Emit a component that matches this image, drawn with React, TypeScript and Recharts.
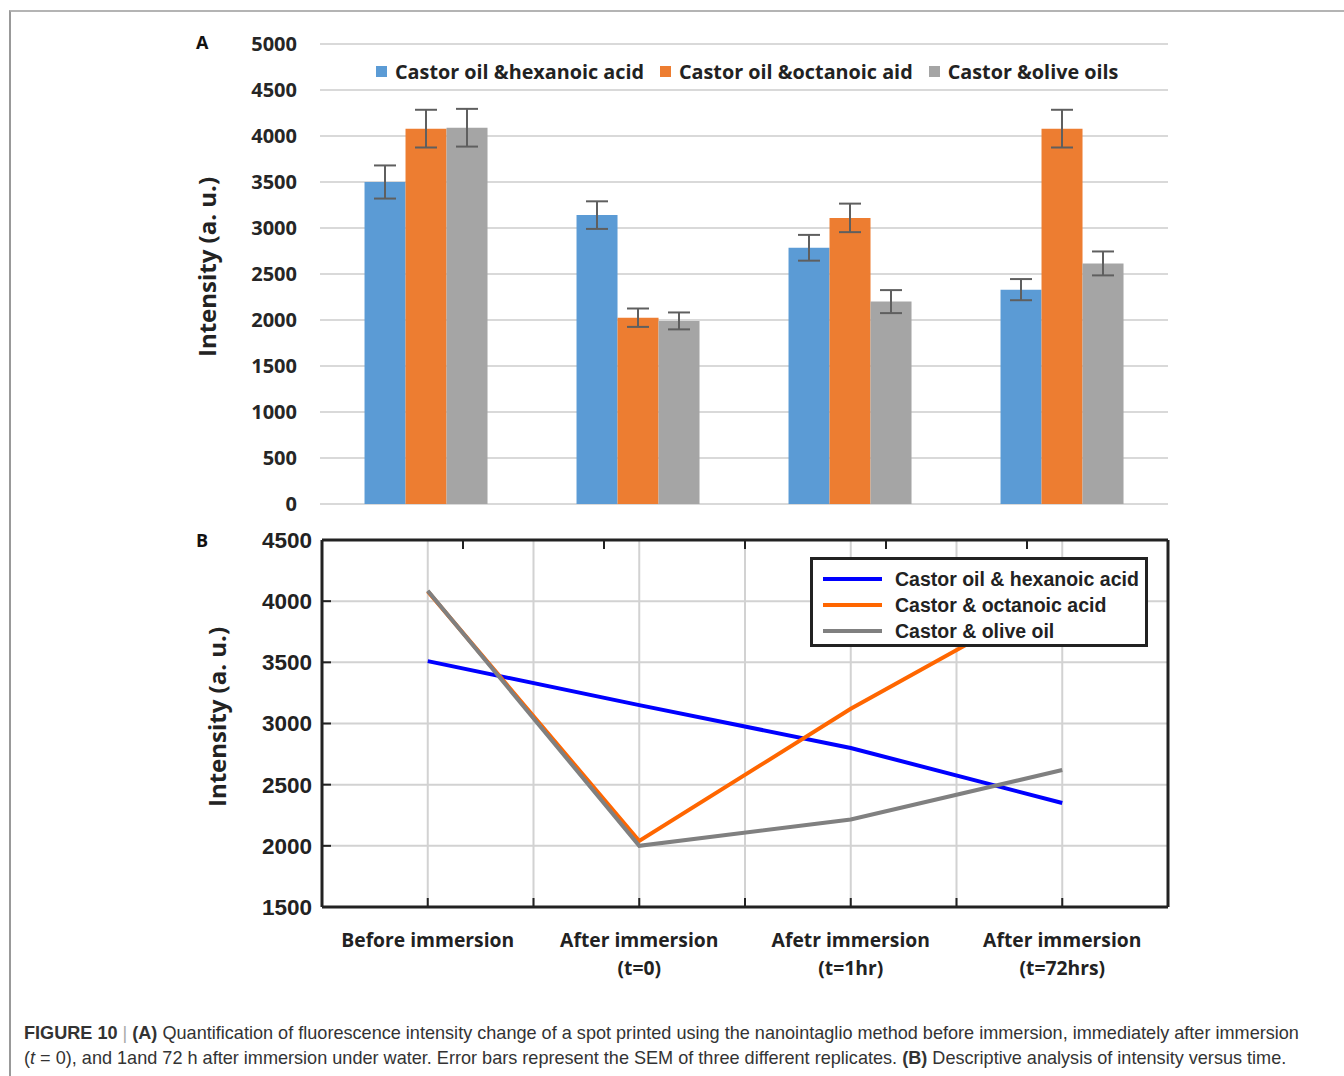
import React from 'react';
import { BarChart, Bar, XAxis, YAxis, CartesianGrid, ErrorBar, LineChart, Line } from 'recharts';

// stages (x categories)
const stageLines = [
  ['Before immersion'],
  ['After immersion', '(t=0)'],
  ['Afetr immersion', '(t=1hr)'],
  ['After immersion', '(t=72hrs)'],
];

// panel A – mean intensity and SEM
const hexanoic = [3500, 3140, 2785, 2330];
const octanoic = [4080, 2025, 3110, 4080];
const olive = [4090, 1990, 2200, 2615];
const hexanoicErr = [180, 150, 140, 115];
const octanoicErr = [205, 100, 155, 205];
const oliveErr = [205, 92, 125, 130];

// panel B – descriptive lines
const lineHexanoic = [3510, 3150, 2800, 2350];
const lineOctanoic = [4080, 2040, 3120, 4080];
const lineOlive = [4085, 2000, 2215, 2620];

const barTicks = [0, 500, 1000, 1500, 2000, 2500, 3000, 3500, 4000, 4500, 5000];
const lineYTicks = [1500, 2000, 2500, 3000, 3500, 4000, 4500];
const lineXTicks = [0, 0.5, 1, 1.5, 2, 2.5, 3];

const barLegend = [
  { name: 'Castor oil &hexanoic acid', color: '#5B9BD5' },
  { name: 'Castor oil &octanoic aid', color: '#ED7D31' },
  { name: 'Castor &olive oils', color: '#A5A5A5' },
];
const lineLegend = [
  { name: 'Castor oil & hexanoic acid', color: '#0000FF' },
  { name: 'Castor & octanoic acid', color: '#FF6600' },
  { name: 'Castor & olive oil', color: '#808080' },
];

const barData = stageLines.map((s, i) => ({
  stage: s.join(' '),
  hex: hexanoic[i], hexErr: hexanoicErr[i],
  oct: octanoic[i], octErr: octanoicErr[i],
  olv: olive[i], olvErr: oliveErr[i],
}));

const lineData = stageLines.map((_, i) => ({
  pos: i,
  hex: lineHexanoic[i],
  oct: lineOctanoic[i],
  olv: lineOlive[i],
}));

const SANS = '"Open Sans", sans-serif';
const ARIAL = '"Liberation Sans", Arial, sans-serif';
const FRAME = '#222';

function StageTick({ x, y, payload }: any) {
  const v = payload.value;
  if (!Number.isInteger(v)) return null;
  const lines = stageLines[v];
  return (
    <text x={x} y={y} textAnchor="middle" fontFamily={SANS} fontWeight={700} fontSize={19.3} fill="#222">
      {lines.map((l, i) => (
        <tspan key={i} x={x} dy={i === 0 ? 0 : 28}>{l}</tspan>
      ))}
    </text>
  );
}

function YTitle({ left, top }: { left: number; top: number }) {
  return (
    <div style={{ position: 'absolute', left, top, width: 0, height: 0 }}>
      <div style={{
        position: 'absolute', left: 0, top: 0, whiteSpace: 'nowrap',
        transform: 'translate(-50%, -50%) rotate(-90deg)',
        fontFamily: SANS, fontWeight: 700, fontSize: 24, color: '#222',
      }}>Intensity (a. u.)</div>
    </div>
  );
}

export default function App() {
  return (
    <div style={{ position: 'absolute', left: 0, top: 0, width: 1344, height: 1076, background: '#fff', overflow: 'hidden' }}>
      {/* figure frame */}
      <div style={{ position: 'absolute', left: 9, top: 10, width: 1340, height: 1070, borderTop: '2px solid #b4b4b4', borderLeft: '2px solid #999' }} />

      <div style={{ position: 'absolute', left: 196, top: 30, fontFamily: SANS, fontWeight: 700, fontSize: 18, color: '#111' }}>A</div>
      <div style={{ position: 'absolute', left: 196, top: 528, fontFamily: SANS, fontWeight: 700, fontSize: 18, color: '#111' }}>B</div>

      {/* panel A */}
      <div style={{ position: 'absolute', left: 180, top: 20 }}>
        <BarChart width={1000} height={520} data={barData} margin={{ top: 24, right: 12, bottom: 36, left: 0 }} barCategoryGap="21%" barGap={0}>
          <CartesianGrid vertical={false} stroke="#d9d9d9" strokeWidth={2} />
          <XAxis dataKey="stage" hide />
          <YAxis domain={[0, 5000]} ticks={barTicks} interval={0} width={140} axisLine={false} tickLine={false} tickMargin={17}
            tick={{ fontSize: 20, fontWeight: 700, fill: '#262626', fontFamily: SANS }} />
          <Bar dataKey="hex" fill="#5B9BD5" isAnimationActive={false}>
            <ErrorBar dataKey="hexErr" width={11} strokeWidth={2} stroke="#5f5f5f" />
          </Bar>
          <Bar dataKey="oct" fill="#ED7D31" isAnimationActive={false}>
            <ErrorBar dataKey="octErr" width={11} strokeWidth={2} stroke="#5f5f5f" />
          </Bar>
          <Bar dataKey="olv" fill="#A5A5A5" isAnimationActive={false}>
            <ErrorBar dataKey="olvErr" width={11} strokeWidth={2} stroke="#5f5f5f" />
          </Bar>
        </BarChart>
      </div>
      <YTitle left={206} top={267} />
      <div style={{ position: 'absolute', left: 376, top: 58, display: 'flex', alignItems: 'center', gap: 16, fontFamily: SANS, fontWeight: 700, fontSize: 19.8, color: '#222', whiteSpace: 'nowrap' }}>
        {barLegend.map((d) => (
          <div key={d.name} style={{ display: 'flex', alignItems: 'center', gap: 8 }}>
            <div style={{ width: 11, height: 11, background: d.color }} />
            <span>{d.name}</span>
          </div>
        ))}
      </div>

      {/* panel B */}
      <div style={{ position: 'absolute', left: 180, top: 520 }}>
        <LineChart width={1000} height={480} data={lineData} margin={{ top: 18, right: 10, bottom: 13, left: 0 }}>
          <CartesianGrid stroke="#d2d2d2" strokeWidth={2} />
          <XAxis dataKey="pos" type="number" domain={[-0.5, 3.5]} ticks={lineXTicks} interval={0} height={80}
            tickSize={-9} tickMargin={49} axisLine={{ stroke: FRAME, strokeWidth: 3 }} tickLine={{ stroke: FRAME, strokeWidth: 2 }}
            tick={<StageTick />} />
          <XAxis xAxisId="top" orientation="top" type="number" domain={[-0.5, 3.5]} ticks={lineXTicks} interval={0} height={2}
            tickSize={-9} axisLine={{ stroke: FRAME, strokeWidth: 3 }} tickLine={{ stroke: FRAME, strokeWidth: 2 }} tickFormatter={() => ''} />
          <YAxis type="number" domain={[1500, 4500]} ticks={lineYTicks} interval={0} width={142}
            tickSize={-9} tickMargin={19} axisLine={{ stroke: FRAME, strokeWidth: 3 }} tickLine={{ stroke: FRAME, strokeWidth: 2 }}
            tick={{ fontSize: 22.5, fontWeight: 700, fill: '#222', fontFamily: ARIAL }} />
          <YAxis yAxisId="right" orientation="right" type="number" domain={[1500, 4500]} ticks={lineYTicks} interval={0} width={2}
            tickSize={-9} axisLine={{ stroke: FRAME, strokeWidth: 3 }} tickLine={{ stroke: FRAME, strokeWidth: 2 }} tickFormatter={() => ''} />
          <Line dataKey="hex" stroke="#0000FF" strokeWidth={4} dot={false} isAnimationActive={false} />
          <Line dataKey="oct" stroke="#FF6600" strokeWidth={4} dot={false} isAnimationActive={false} />
          <Line dataKey="olv" stroke="#808080" strokeWidth={4} dot={false} isAnimationActive={false} />
        </LineChart>
      </div>
      <YTitle left={216} top={717} />
      <div style={{ position: 'absolute', left: 810, top: 557, width: 332, height: 84, border: `3px solid ${FRAME}`, background: '#fff', boxSizing: 'content-box' }}>
        {lineLegend.map((d, i) => (
          <div key={d.name} style={{ position: 'absolute', left: 10, top: 6 + i * 26, height: 26, display: 'flex', alignItems: 'center', whiteSpace: 'nowrap' }}>
            <div style={{ width: 59, height: 4, background: d.color }} />
            <span style={{ marginLeft: 13, fontFamily: ARIAL, fontWeight: 700, fontSize: 19.5, color: '#222' }}>{d.name}</span>
          </div>
        ))}
      </div>

      {/* caption */}
      <div style={{ position: 'absolute', left: 24, top: 1021, fontFamily: ARIAL, fontSize: 18.1, lineHeight: '25px', color: '#333', whiteSpace: 'nowrap' }}>
        <b>FIGURE 10</b> <span style={{ color: '#aaa' }}>|</span> <b>(A)</b> Quantification of fluorescence intensity change of a spot printed using the nanointaglio method before immersion, immediately after immersion
        <br />
        (<i>t</i> = 0), and 1and 72 h after immersion under water. Error bars represent the SEM of three different replicates. <b>(B)</b> Descriptive analysis of intensity versus time.
      </div>
    </div>
  );
}
